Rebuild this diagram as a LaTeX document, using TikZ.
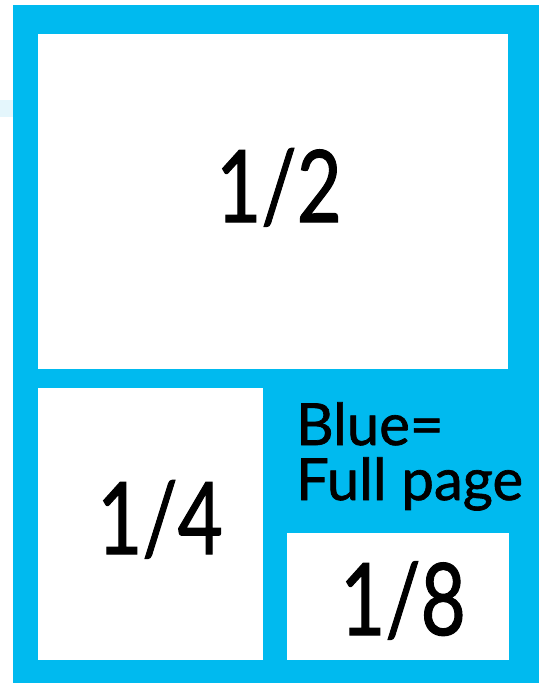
\documentclass[tikz,border=0pt]{standalone}
\usepackage{fontspec}
\setmainfont{Lato}[FakeBold=1.2]
\definecolor{pageblue}{RGB}{0,186,239}
\definecolor{faintblue}{RGB}{228,246,252}
\begin{document}
\begin{tikzpicture}[x=1pt,y=-1pt,
  panel/.style={fill=white,draw=none},
  bigfrac/.style={inner sep=0pt,anchor=base,font=\fontsize{100}{100}\selectfont},
  note/.style={inner sep=0pt,anchor=base west,font=\fontsize{58}{58}\selectfont}]
\useasboundingbox (0,0) rectangle (539,683);
\fill[faintblue] (0,100) rectangle (13,117);
\fill[pageblue] (13,5) rectangle (539,683);
\path[panel] (38,34) rectangle (508,369);
\path[panel] (38,388) rectangle (263,660);
\path[panel] (287,533) rectangle (509,660);
\node[bigfrac] (half) at (279,222) {\scalebox{0.78}[1]{1/2}};
\node[bigfrac] (quarter) at (160,554) {\scalebox{0.78}[1]{1/4}};
\node[bigfrac] (eighth) at (403,635) {\scalebox{0.78}[1]{1/8}};
\node[note] (blue) at (296,445) {Blue=};
\node[note] (full) at (296,500) {Full page};
\end{tikzpicture}
\end{document}
